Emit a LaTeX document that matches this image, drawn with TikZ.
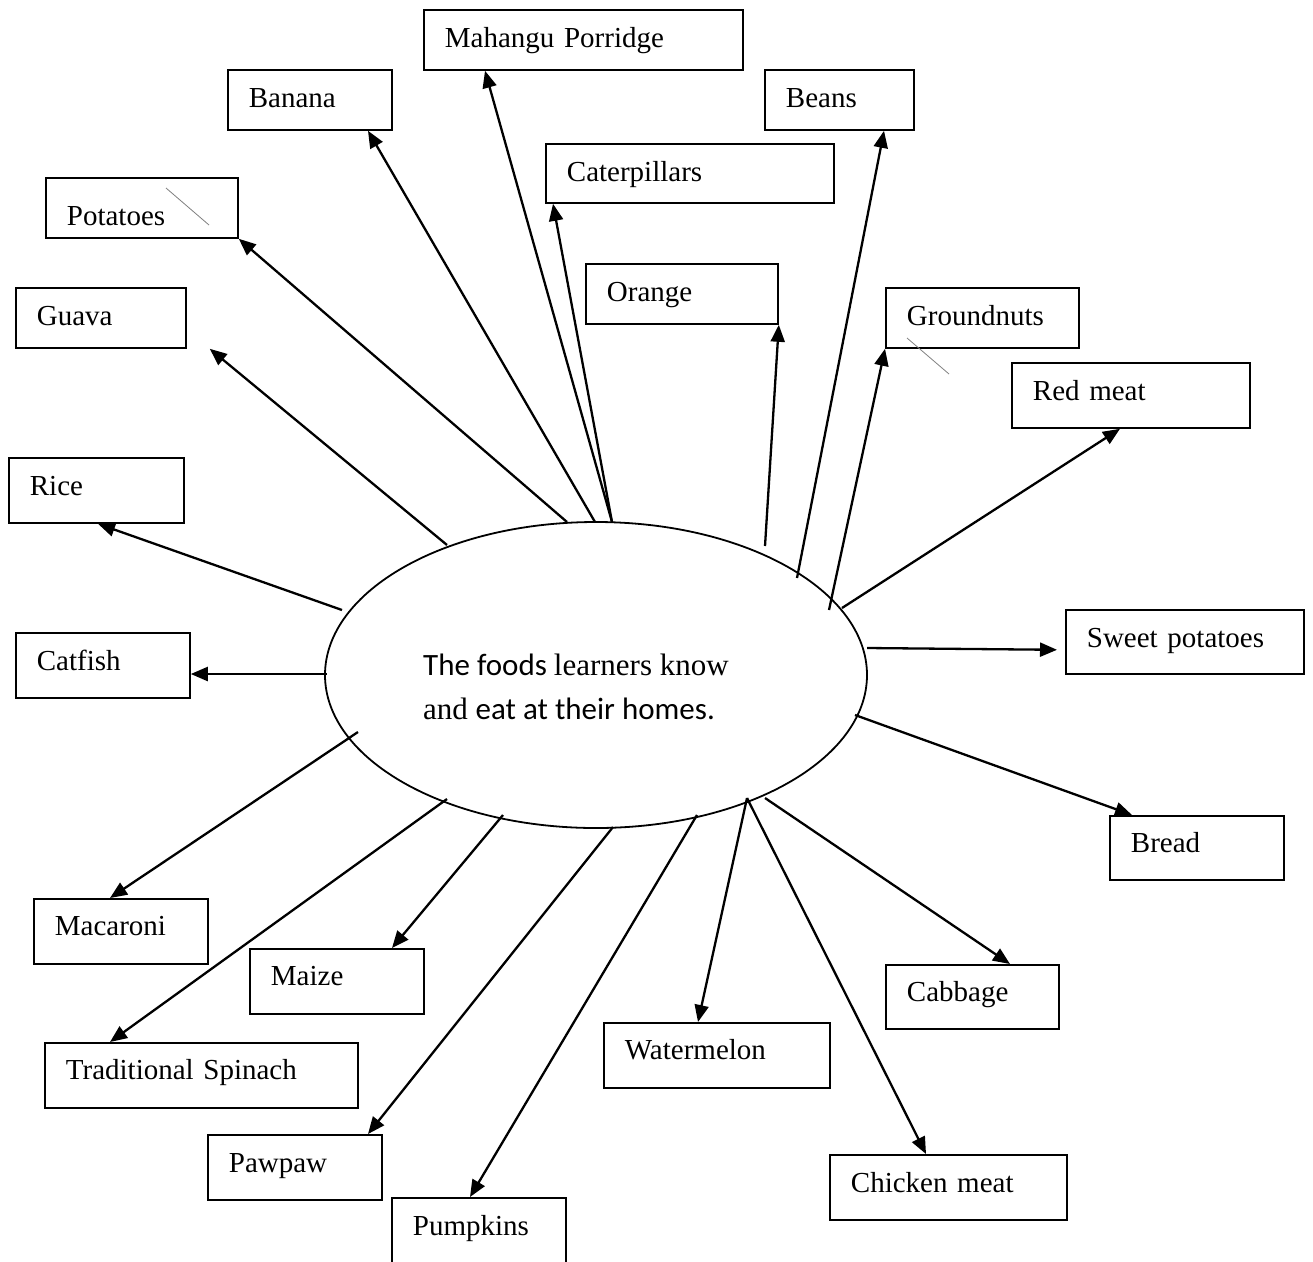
\documentclass[tikz,border=0pt]{standalone}
\usepackage{fontspec}
\usetikzlibrary{arrows.meta,shapes.geometric}
\newfontfamily\timesfnt{Liberation Serif}
\newfontfamily\calfnt{Carlito}
\begin{document}
\begin{tikzpicture}[x=1pt,y=-1pt,
  box/.style n args={3}{draw=black, line width=1.8pt, inner xsep=0pt, inner ysep=0pt,
    anchor=north west, align=left, text width=#1, text height=#2, text depth=#3,
    execute at begin node={\hspace*{21pt}},
    font=\timesfnt\fontsize{29}{35}\selectfont},
  arr/.style={line width=2.3pt, -{Triangle[length=17pt,width=14pt]}},
  stray/.style={draw=gray, line width=0.8pt},
  ctext/.style={anchor=base west, inner sep=0pt, font=\fontsize{31}{37}\selectfont}]
\useasboundingbox (0,0) rectangle (1313,1261);
\fill[white] (0,0) rectangle (1313,1261);
\clip (0,0) rectangle (1313,1261);

% centre
\node[draw=black, line width=1.8pt, ellipse, inner sep=0pt, minimum width=542pt, minimum height=306pt] (c) at (596,675) {};
\node[ctext] (ct1) at (423,675) {\calfnt The foods \timesfnt learners know};
\node[ctext] (ct2) at (423,719) {\timesfnt and \calfnt eat at their homes.};

% boxes
\node[box={319pt}{38pt}{22pt}] (mah) at (423,9) {Mahangu Porridge};
\node[box={164pt}{38pt}{22pt}] (ban) at (227,69) {Banana};
\node[box={149pt}{38pt}{22pt}] (bea) at (764,69) {Beans};
\node[box={288pt}{38pt}{21pt}] (cat) at (545,143) {Caterpillars};
\node[box={192pt}{48pt}{12pt}] (pot) at (45,177) {Potatoes};
\node[box={170pt}{38pt}{22pt}] (gua) at (15,287) {Guava};
\node[box={192pt}{38pt}{22pt}] (ora) at (585,263) {Orange};
\node[box={193pt}{38pt}{22pt}] (gro) at (885,287) {Groundnuts};
\node[box={238pt}{38pt}{27pt}] (red) at (1011,362) {Red meat};
\node[box={175pt}{38pt}{27pt}] (ric) at (8,457) {Rice};
\node[box={174pt}{38pt}{27pt}] (cf) at (15,632) {Catfish};
\node[box={238pt}{38pt}{26pt}] (swp) at (1065,609) {Sweet potatoes};
\node[box={174pt}{37pt}{27pt}] (bre) at (1109,815) {Bread};
\node[box={174pt}{37pt}{28pt}] (mac) at (33,898) {Macaroni};
\node[box={174pt}{37pt}{28pt}] (mai) at (249,948) {Maize};
\node[box={173pt}{37pt}{27pt}] (cab) at (885,964) {Cabbage};
\node[box={313pt}{37pt}{28pt}] (spi) at (44,1042) {Traditional Spinach};
\node[box={226pt}{37pt}{28pt}] (wat) at (603,1022) {Watermelon};
\node[box={174pt}{38pt}{27pt}] (paw) at (207,1134) {Pawpaw};
\node[box={237pt}{38pt}{27pt}] (chi) at (829,1154) {Chicken meat};
\node[box={174pt}{38pt}{52pt}] (pum) at (391,1197) {Pumpkins};

% stray marks
\draw[stray] (166,188) -- (209,225);
\draw[stray] (907,338) -- (949,374);

% connectors
\draw[arr] ([shift={(16,-153)}]c.center) -- ([xshift=62pt]mah.south west);
\draw[arr] ([shift={(-1,-153)}]c.center) -- ([xshift=141pt]ban.south west);
\draw[arr] ([shift={(-29,-153)}]c.center) -- (pot.south east);
\draw[arr] ([shift={(-149,-130)}]c.center) -- ([xshift=23pt]gua.south east);
\draw[arr] ([shift={(16,-153)}]c.center) -- ([xshift=8pt]cat.south west);
\draw[arr] ([shift={(169,-129)}]c.center) -- (ora.south east);
\draw[arr] ([shift={(201,-97)}]c.center) -- ([xshift=120pt]bea.south west);
\draw[arr] ([shift={(233,-65)}]c.center) -- (gro.south west);
\draw[arr] ([shift={(246,-67)}]c.center) -- ([xshift=109pt]red.south west);
\draw[arr] ([shift={(271,-27)}]c.center) -- ([xshift=-8pt,yshift=25pt]swp.south west);
\draw[arr] ([shift={(259,40)}]c.center) -- ([xshift=23pt]bre.north west);
\draw[arr] ([shift={(169,123)}]c.center) -- ([xshift=125pt]cab.north west);
\draw[arr] ([shift={(151,123)}]c.center) -- ([xshift=97pt]chi.north west);
\draw[arr] ([shift={(151,123)}]c.center) -- ([xshift=95pt]wat.north west);
\draw[arr] ([shift={(101,140)}]c.center) -- ([xshift=79pt]pum.north west);
\draw[arr] ([shift={(17,152)}]c.center) -- ([xshift=161pt]paw.north west);
\draw[arr] ([shift={(-93,140)}]c.center) -- ([xshift=143pt]mai.north west);
\draw[arr] ([shift={(-149,124)}]c.center) -- ([xshift=66pt]spi.north west);
\draw[arr] ([shift={(-238,57)}]c.center) -- ([xshift=77pt]mac.north west);
\draw[arr] ([shift={(-269,-1)}]c.center) -- ([yshift=-42pt]cf.north east);
\draw[arr] ([shift={(-254,-65)}]c.center) -- ([xshift=90pt]ric.south west);
\end{tikzpicture}
\end{document}
